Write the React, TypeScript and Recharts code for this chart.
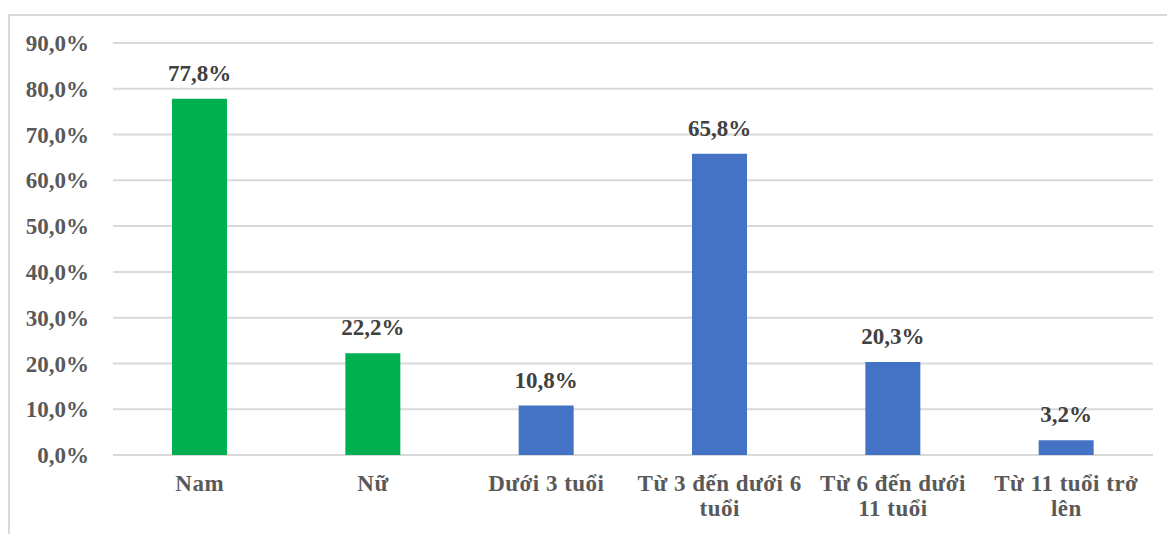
import React from 'react';
import { BarChart, Bar, XAxis, YAxis, CartesianGrid, LabelList, Cell } from 'recharts';

// Category names split into the lines shown under each bar
const categoryLines: string[][] = [
  ['Nam'],
  ['Nữ'],
  ['Dưới 3 tuổi'],
  ['Từ 3 đến dưới 6', 'tuổi'],
  ['Từ 6 đến dưới', '11 tuổi'],
  ['Từ 11 tuổi trở', 'lên'],
];
const categories: string[] = categoryLines.map((l) => l.join(' '));

// Share of respondents in each group (fraction of 1)
const shares: number[] = [0.778, 0.222, 0.108, 0.658, 0.203, 0.032];

// Gender bars are green, age-group bars are blue
const groups: string[] = ['gender', 'gender', 'age', 'age', 'age', 'age'];
const groupColors: Record<string, string> = { gender: '#00B050', age: '#4472C4' };

const yTicks: number[] = [0, 0.1, 0.2, 0.3, 0.4, 0.5, 0.6, 0.7, 0.8, 0.9];

const data = categories.map((name, i) => ({ name, value: shares[i], group: groups[i] }));

const FONT = 'Liberation Serif, Times New Roman, serif';

const pct = (v: number) => (v * 100).toFixed(1).replace('.', ',') + '%';

const CategoryTick = (props: any) => {
  const { x, y, payload } = props;
  const idx = categories.indexOf(payload.value);
  const lines = idx >= 0 ? categoryLines[idx] : [String(payload.value)];
  return (
    <text
      x={x}
      y={y}
      textAnchor="middle"
      fill="#595959"
      style={{ fontFamily: FONT, fontWeight: 700, fontSize: 23, letterSpacing: 0.5 }}
    >
      {lines.map((line, i) => (
        <tspan key={i} x={x} dy={i === 0 ? 36 : 25}>
          {line}
        </tspan>
      ))}
    </text>
  );
};

export default function App() {
  return (
    <div
      style={{
        position: 'absolute',
        left: 0,
        top: 0,
        width: 1167,
        height: 534,
        overflow: 'hidden',
        background: '#ffffff',
        fontFamily: FONT,
      }}
    >
      <div
        style={{
          position: 'absolute',
          left: 8,
          top: 14,
          width: 1200,
          height: 600,
          border: '2px solid #d9d9d9',
          boxSizing: 'border-box',
        }}
      />
      <div style={{ position: 'absolute', left: 0, top: 0 }}>
        <BarChart
          width={1167}
          height={534}
          data={data}
          margin={{ top: 43, right: 14, bottom: 0, left: 0 }}
          style={{ fontFamily: FONT }}
        >
          <CartesianGrid vertical={false} stroke="#d9d9d9" strokeWidth={2} />
          <XAxis
            dataKey="name"
            height={79}
            axisLine={false}
            tickLine={false}
            tickSize={0}
            tickMargin={0}
            interval={0}
            tick={<CategoryTick />}
          />
          <YAxis
            width={113}
            domain={[0, 0.9]}
            ticks={yTicks}
            tickFormatter={pct}
            axisLine={false}
            tickLine={false}
            tickSize={0}
            tickMargin={24}
            tick={{ fill: '#595959', style: { fontFamily: FONT, fontWeight: 700, fontSize: 23 } }}
          />
          <Bar dataKey="value" barSize={55} isAnimationActive={false}>
            {data.map((d, i) => (
              <Cell key={i} fill={groupColors[d.group]} />
            ))}
            <LabelList
              dataKey="value"
              position="top"
              offset={18}
              formatter={(v: any) => pct(Number(v))}
              fill="#404040"
              style={{ fontFamily: FONT, fontWeight: 700, fontSize: 23 }}
            />
          </Bar>
        </BarChart>
      </div>
    </div>
  );
}
